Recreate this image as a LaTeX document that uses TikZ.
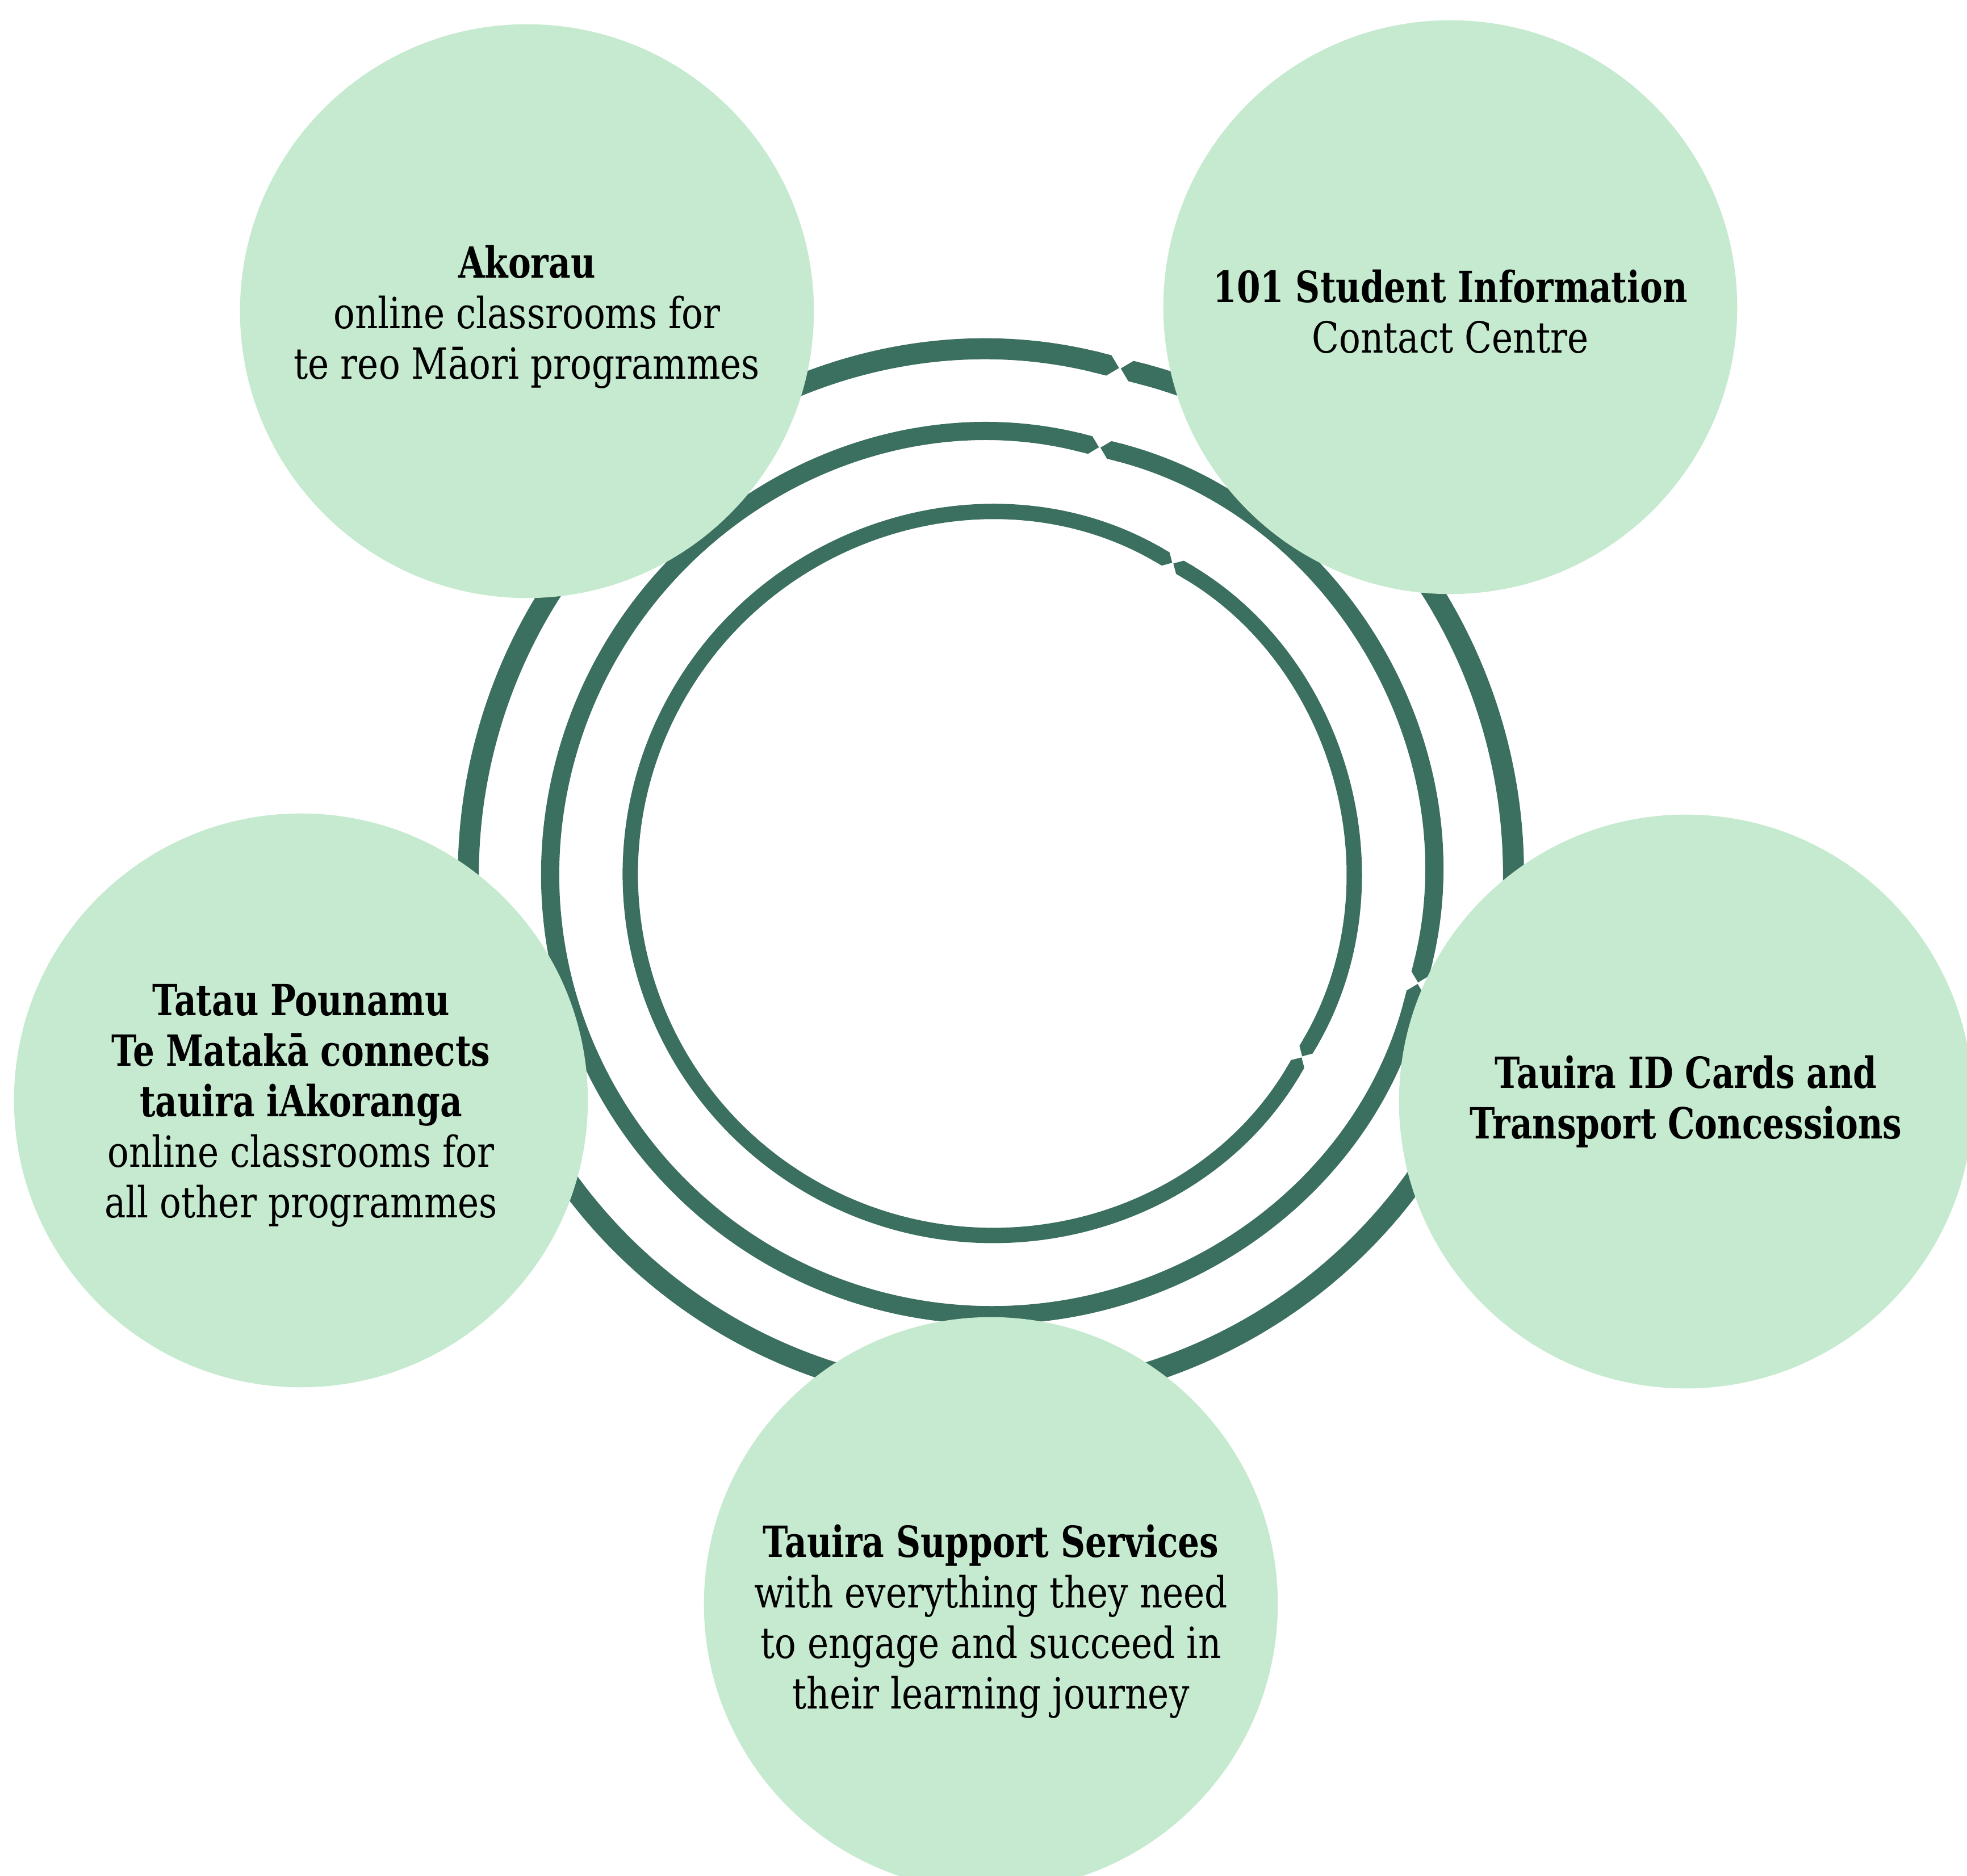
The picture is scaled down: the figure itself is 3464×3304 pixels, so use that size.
\documentclass[tikz,border=0pt]{standalone}
\usepackage{fontspec}
\setmainfont[FakeStretch=0.83, BoldFeatures={FakeStretch=0.79}]{DejaVu Serif}
\usetikzlibrary{arrows.meta}
\definecolor{ringgreen}{HTML}{3B6F5F}
\definecolor{bubblegreen}{HTML}{C5EACF}

\begin{document}
\begin{tikzpicture}[
    x=0.01cm, y=0.01cm,
    % Style for the light green service bubbles
    bubble/.style={circle, fill=bubblegreen, minimum size=10.1cm, inner sep=0pt},
    % Style for the text set inside a bubble
    bubble text/.style={align=center, font=\fontsize{21.5}{25.3}\selectfont},
    % Style for the dark green rings (pointed ends at each break)
    ring/.style={draw=ringgreen, {Triangle Cap[]}-{Triangle Cap[]}}
]

    \useasboundingbox (-1745,-1764) rectangle (1719,1540);

    % --- 1. Define Coordinates ---
    \coordinate (hub) at (0, 0);

    \coordinate (c101) at (809, 999);
    \coordinate (cakorau) at (-817, 992);
    \coordinate (ctatau) at (-1215, -398);
    \coordinate (cid) at (1224, -400);
    \coordinate (csupport) at (0, -1285);


    % --- 2. Draw Rings ---
    % Drawn first so the bubbles sit on top
    % Outer ring, one break
    \draw[ring, line width=0.37cm] (75.8:920) arc[start angle=75.8, end angle=435.6, radius=920];

    % Middle ring, two breaks
    \draw[ring, line width=0.32cm] (-14.2:776) arc[start angle=-14.2, end angle=75.6, radius=776];
    \draw[ring, line width=0.32cm] (75.8:776) arc[start angle=75.8, end angle=345.6, radius=776];

    % Inner ring, two breaks
    \draw[ring, line width=0.27cm] (-30.3:635) arc[start angle=-30.3, end angle=59.6, radius=635];
    \draw[ring, line width=0.27cm] (59.8:635) arc[start angle=59.8, end angle=329.5, radius=635];


    % --- 3. Draw Bubbles ---
    \node[bubble] (akorau) at (cakorau) {};
    \node[bubble] (contact) at (c101) {};
    \node[bubble] (tatau) at (ctatau) {};
    \node[bubble] (idcards) at (cid) {};
    \node[bubble] (support) at (csupport) {};


    % --- 4. Draw Labels ---
    \node[bubble text] (akorau label) at ([yshift=-0.1cm]akorau)
        {\textbf{Akorau}\\online classrooms for\\te reo Māori programmes};
    \node[bubble text] (contact label) at ([yshift=-0.08cm]contact)
        {\textbf{101 Student Information}\\Contact Centre};
    \node[bubble text] (tatau label) at ([yshift=-0.09cm]tatau)
        {\textbf{Tatau Pounamu}\\\textbf{Te Matakā connects}\\\textbf{tauira iAkoranga}\\online classrooms for\\all other programmes};
    \node[bubble text] (idcards label) at (idcards)
        {\textbf{Tauira ID Cards and}\\\textbf{Transport Concessions}};
    \node[bubble text] (support label) at ([yshift=-0.31cm]support)
        {\textbf{Tauira Support Services}\\with everything they need\\to engage and succeed in\\their learning journey};

\end{tikzpicture}
\end{document}
